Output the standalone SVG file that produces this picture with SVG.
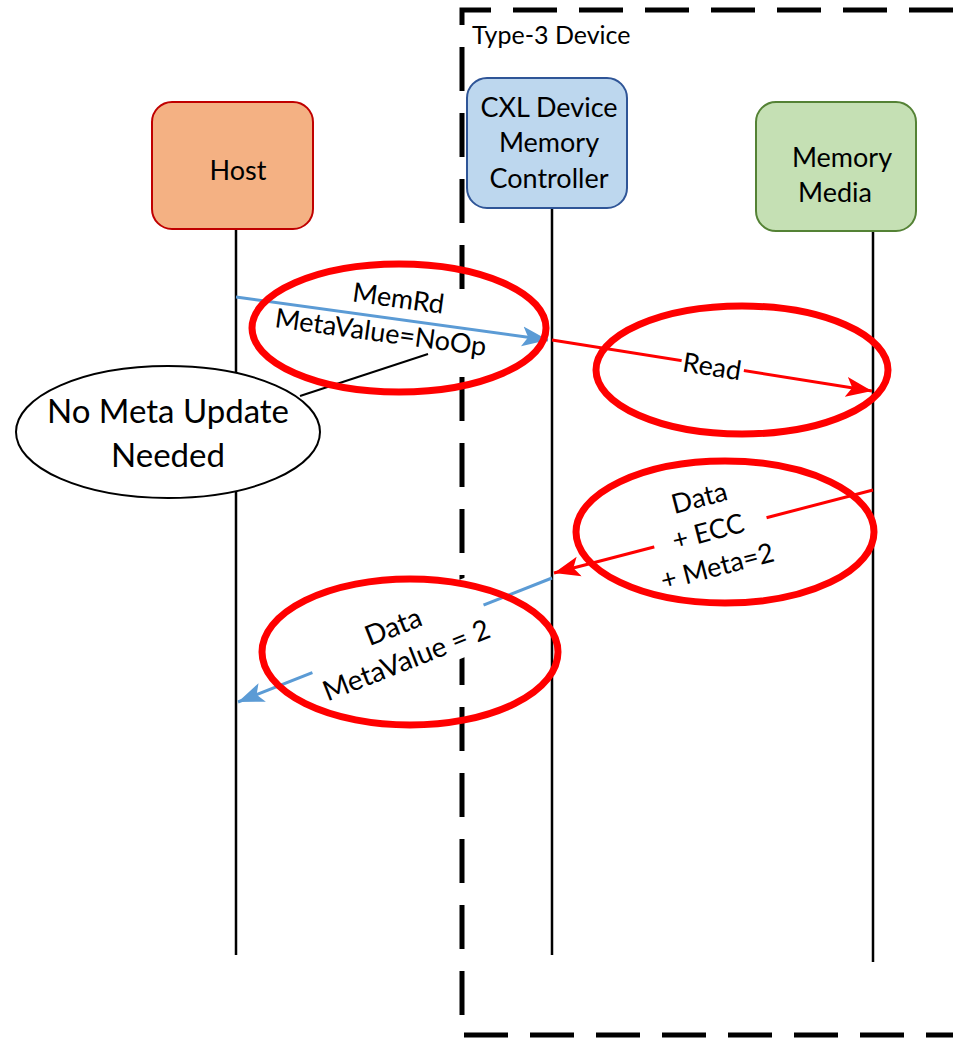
<svg xmlns="http://www.w3.org/2000/svg" width="953" height="1040" viewBox="0 0 953 1040">
<style>
text{font-family:Lato,"Open Sans","Liberation Sans",sans-serif;fill:#000;text-anchor:middle}
.node{font-size:27px}
.lbl{font-size:27px}
.life{stroke:#000;stroke-width:2.5;fill:none}
.blue{stroke:#5B9BD5;stroke-width:3;fill:none}
.red{stroke:#FF0000;stroke-width:3;fill:none}
.hl{stroke:#FF0000;stroke-width:7;fill:none}
.bg{fill:#fff}
</style>
<defs>
<marker id="ab" markerUnits="userSpaceOnUse" markerWidth="28" markerHeight="22" refX="26" refY="11" orient="auto"><path d="M0,1 L26,11 L0,21 L6,11 Z" fill="#5B9BD5"/></marker>
<marker id="ar" markerUnits="userSpaceOnUse" markerWidth="28" markerHeight="22" refX="26" refY="11" orient="auto"><path d="M0,1 L26,11 L0,21 L6,11 Z" fill="#FF0000"/></marker>
</defs>
<g id="device-boundary">
<path d="M953,10 L462,10 L462,1035 L953,1035" fill="none" stroke="#000" stroke-width="5" stroke-dasharray="44 22"/>
<text x="472" y="44" style="font-size:25px;text-anchor:start">Type-3 Device</text>
</g>
<g id="lifelines">
<line class="life" x1="236" y1="210" x2="236" y2="955"/>
<line class="life" x1="552" y1="208" x2="552" y2="955"/>
<line class="life" x1="873" y1="215" x2="873" y2="962"/>
</g>
<g id="host">
<rect x="152" y="102" width="161" height="127" rx="20" fill="#F4B183" stroke="#C00000" stroke-width="2"/>
<text class="node" x="238" y="180">Host</text>
</g>
<g id="cxl-controller">
<rect x="467" y="78" width="160" height="130" rx="20" fill="#BDD7EE" stroke="#2F5597" stroke-width="2"/>
<text class="node" x="549" y="117">CXL Device</text>
<text class="node" x="549" y="152">Memory</text>
<text class="node" x="549" y="188">Controller</text>
</g>
<g id="memory-media">
<rect x="756" y="102" width="160" height="129" rx="20" fill="#C5E0B4" stroke="#548235" stroke-width="2"/>
<text class="node" x="842" y="167">Memory</text>
<text class="node" x="835" y="202">Media</text>
</g>
<g id="label-memrd-bg">
<g transform="rotate(7.8 392 316)">
<rect class="bg" x="290" y="292" width="200" height="56"/>
</g>
</g>
<g id="connectors">
<line class="blue" x1="236" y1="297" x2="548" y2="340" marker-end="url(#ab)"/>
<line class="red" x1="552" y1="340" x2="872" y2="391" marker-end="url(#ar)"/>
<line class="red" x1="873" y1="490" x2="554" y2="573" marker-end="url(#ar)"/>
<line class="blue" x1="552" y1="578" x2="238" y2="702" marker-end="url(#ab)"/>
<line stroke="#000" stroke-width="2" x1="300" y1="396" x2="428" y2="354"/>
</g>
<g id="label-memrd">
<g transform="rotate(7.8 392 316)">
<text class="lbl" x="396" y="307">MemRd</text>
<text class="lbl" x="383" y="343">MetaValue=NoOp</text>
</g>
</g>
<g id="label-read">
<g transform="rotate(8.9 712 367)">
<rect class="bg" x="681" y="352" width="63" height="30"/>
<text class="lbl" x="712" y="376">Read</text>
</g>
</g>
<g id="label-data-ecc">
<g transform="rotate(-14.6 708 531)">
<rect class="bg" x="652" y="478" width="116" height="108"/>
<text class="lbl" x="708" y="506">Data</text>
<text class="lbl" x="708" y="541">+ ECC</text>
<text class="lbl" x="708" y="577">+ Meta=2</text>
</g>
</g>
<g id="label-data-meta">
<g transform="rotate(-21.5 400 644)">
<rect class="bg" x="308" y="606" width="184" height="74"/>
<text class="lbl" x="400" y="635" style="font-size:28px">Data</text>
<text class="lbl" x="400" y="671" style="font-size:28px">MetaValue = 2</text>
</g>
</g>
<g id="note-no-meta">
<ellipse cx="168" cy="432" rx="152" ry="66" fill="#fff" stroke="#000" stroke-width="2"/>
<text x="168" y="423" style="font-size:33px">No Meta Update</text>
<text x="168" y="467" style="font-size:33px">Needed</text>
</g>
<g id="highlights">
<ellipse class="hl" cx="399" cy="328" rx="147" ry="64"/>
<ellipse class="hl" cx="742" cy="370" rx="146" ry="64"/>
<ellipse class="hl" cx="725" cy="532" rx="149" ry="71"/>
<ellipse class="hl" cx="410" cy="652" rx="148" ry="73"/>
</g>
</svg>
